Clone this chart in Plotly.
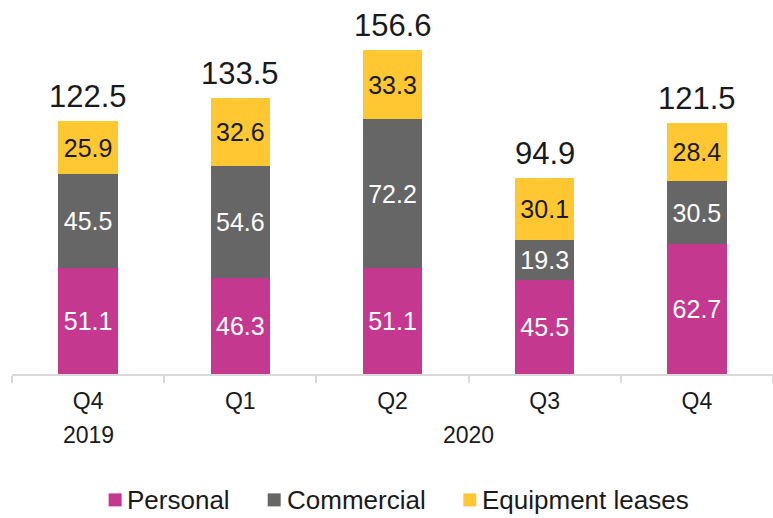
import plotly.graph_objects as go

quarters = ["Q4", "Q1", "Q2", "Q3", "Q4"]
years = ["2019", "2020"]
personal = [51.1, 46.3, 51.1, 45.5, 62.7]
commercial = [45.5, 54.6, 72.2, 19.3, 30.5]
equipment = [25.9, 32.6, 33.3, 30.1, 28.4]
totals = [122.5, 133.5, 156.6, 94.9, 121.5]

x = list(range(len(quarters)))
font_family = "Liberation Sans, Arial, sans-serif"
ink = "#1a1a1a"

series = [
    ("Personal", personal, "#C4398F", "white"),
    ("Commercial", commercial, "#666666", "white"),
    ("Equipment leases", equipment, "#FFC832", ink),
]

fig = go.Figure()
for name, vals, color, tcolor in series:
    fig.add_trace(go.Bar(
        x=x, y=vals, name=name,
        marker=dict(color=color, line=dict(width=0)),
        text=[f"{v:.1f}" for v in vals],
        textposition="inside", insidetextanchor="middle",
        textfont=dict(size=25, color=tcolor, family=font_family),
        width=0.39, showlegend=False,
    ))

# stack totals above each bar
for xi, t in zip(x, totals):
    fig.add_annotation(
        x=xi, y=t, text=f"{t:.1f}", showarrow=False,
        yanchor="bottom", yshift=5,
        font=dict(size=31, color=ink, family=font_family),
    )

# year labels under the quarter labels
fig.add_annotation(x=0, y=0, text=years[0], showarrow=False, yshift=-61,
                   font=dict(size=23, color=ink, family=font_family))
fig.add_annotation(x=2.5, y=0, text=years[1], showarrow=False, yshift=-61,
                   font=dict(size=23, color=ink, family=font_family))

# legend: coloured squares with labels, laid out along the bottom
legend_items = [(s[0], s[2]) for s in series]
legend_x = [0.127, 0.336, 0.593]   # paper x of each square's left edge
sq_w, sq_h = 0.0171, 0.0348
for (name, color), lx in zip(legend_items, legend_x):
    fig.add_shape(type="rect", xref="paper", yref="paper",
                  x0=lx, x1=lx + sq_w, y0=-0.354, y1=-0.354 + sq_h,
                  fillcolor=color, line=dict(width=0))
    fig.add_annotation(xref="paper", yref="paper", x=lx + sq_w + 0.005, y=-0.337,
                       xanchor="left", yanchor="middle", text=name, showarrow=False,
                       font=dict(size=26, color=ink, family=font_family))

fig.update_layout(
    width=773, height=518,
    barmode="stack",
    plot_bgcolor="white", paper_bgcolor="white",
    margin=dict(l=12, r=0, t=0, b=144),
    showlegend=False,
    uniformtext=dict(mode=False),
)
fig.update_xaxes(
    range=[-0.5, 4.5],
    tickvals=x, ticktext=quarters, ticks="", ticklen=0,
    tickfont=dict(size=23, color=ink, family=font_family),
    ticklabelstandoff=5,
    showline=True, linecolor="#d9d9d9", linewidth=2,
    showgrid=False, zeroline=False,
    minor=dict(tickvals=[-0.5, 0.5, 1.5, 2.5, 3.5, 4.5], ticks="outside",
               ticklen=7, tickcolor="#d9d9d9", tickwidth=2, showgrid=False),
)
fig.update_yaxes(range=[0, 181], visible=False, showgrid=False, zeroline=False)

fig.write_html("out.html")
